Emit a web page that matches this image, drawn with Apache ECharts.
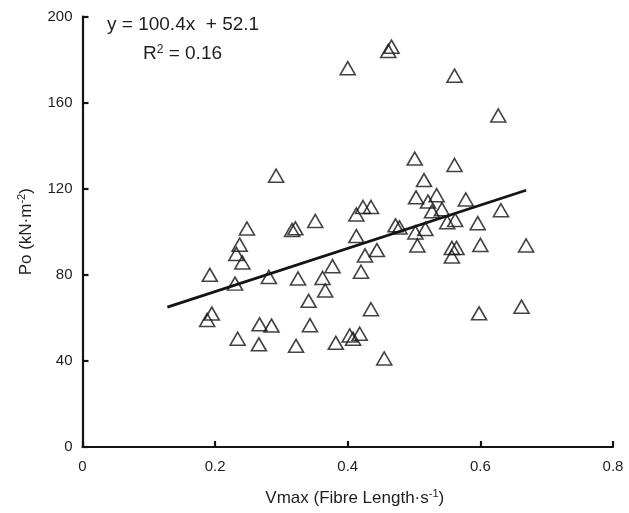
<!DOCTYPE html>
<html>
<head>
<meta charset="utf-8">
<script src="https://cdn.jsdelivr.net/npm/echarts@6/dist/echarts.min.js"></script>
<style>
  html, body { margin: 0; padding: 0; background: #fff; }
  #chart { width: 629px; height: 513px; }
</style>
</head>
<body>
<div id="chart"></div>
<script>
// Maximum shortening velocity (fibre lengths per second) of each fibre
const vmax = [
  0.466, 0.461, 0.400, 0.561, 0.627, 0.501, 0.561, 0.515, 0.503, 0.521,
  0.534, 0.578, 0.527, 0.542, 0.631, 0.423, 0.435, 0.413, 0.351, 0.472,
  0.478, 0.562, 0.550, 0.596, 0.502, 0.517, 0.413, 0.505, 0.600, 0.669,
  0.557, 0.564, 0.557, 0.426, 0.444, 0.292, 0.248, 0.237, 0.316, 0.321,
  0.192, 0.232, 0.241, 0.230, 0.281, 0.325, 0.341, 0.195, 0.188, 0.267,
  0.285, 0.343, 0.234, 0.266, 0.322, 0.377, 0.420, 0.362, 0.366, 0.435,
  0.598, 0.662, 0.403, 0.408, 0.418, 0.382, 0.455
];
// Specific isometric force Po (kN·m^-2) of the same fibres
const po = [
  186.0, 184.0, 176.0, 172.5, 154.0, 134.0, 131.0, 124.0, 116.0, 114.0,
  117.0, 115.0, 109.5, 110.5, 110.0, 111.5, 111.5, 108.0, 105.0, 103.0,
  102.0, 105.5, 104.4, 104.0, 99.7, 101.3, 98.0, 93.6, 93.9, 93.6,
  92.5, 92.5, 88.5, 89.0, 91.5, 126.0, 101.5, 94.0, 100.8, 101.6,
  80.0, 89.7, 85.7, 75.9, 79.0, 78.3, 67.9, 62.0, 59.0, 57.0,
  56.4, 56.6, 50.3, 47.7, 47.0, 84.0, 81.4, 78.5, 72.7, 64.0,
  62.1, 65.2, 51.8, 50.3, 52.6, 48.4, 41.1
];

// Least-squares fit reported on the chart
const fitSlope = 100.4;
const fitIntercept = 52.1;
const fitRange = [0.128, 0.669];

const xTicks = [0, 0.2, 0.4, 0.6, 0.8];
const yTicks = [0, 40, 80, 120, 160, 200];

const FONT = '"Liberation Sans", Arial, Helvetica, sans-serif';
const INK = '#141414';
const TEXT = '#1e1e1e';

const points = vmax.map((v, i) => [v, po[i]]);
const fitLine = fitRange.map(x => [x, fitSlope * x + fitIntercept]);

const chart = echarts.init(document.getElementById('chart'), null, { renderer: 'canvas' });

const axisCommon = {
  axisLine: { show: true, onZero: false, lineStyle: { color: INK, width: 2.2 } },
  axisTick: { show: true, inside: true, length: 6, lineStyle: { color: INK, width: 2.2 } },
  splitLine: { show: false },
  axisLabel: { color: TEXT, fontFamily: FONT, fontSize: 15 }
};

const supStyle = { fontFamily: FONT, fontSize: 11, lineHeight: 20, verticalAlign: 'top', color: TEXT, padding: [0, 0, 8, 0] };

chart.setOption({
  animation: false,
  backgroundColor: '#fff',
  grid: { left: 82.5, right: 16, top: 16.5, bottom: 62, containLabel: false },
  xAxis: Object.assign({}, axisCommon, {
    type: 'value',
    min: xTicks[0],
    max: xTicks[xTicks.length - 1],
    interval: xTicks[1] - xTicks[0],
    axisLabel: Object.assign({}, axisCommon.axisLabel, {
      margin: 12,
      formatter: v => (v === 0 ? '0' : v.toFixed(1))
    }),
    name: 'Vmax (Fibre Length·s{sup|-1})',
    nameLocation: 'middle',
    nameGap: 41,
    nameTextStyle: {
      color: TEXT, fontFamily: FONT, fontSize: 17, lineHeight: 20,
      padding: [0, 0, 0, 14],
      rich: { sup: supStyle }
    }
  }),
  yAxis: Object.assign({}, axisCommon, {
    type: 'value',
    min: yTicks[0],
    max: yTicks[yTicks.length - 1],
    interval: yTicks[1] - yTicks[0],
    axisLabel: Object.assign({}, axisCommon.axisLabel, { margin: 10 }),
    name: 'Po (kN·m{sup|-2})',
    nameLocation: 'middle',
    nameGap: 46,
    nameTextStyle: {
      color: TEXT, fontFamily: FONT, fontSize: 17, lineHeight: 20,
      rich: { sup: supStyle }
    }
  }),
  series: [
    {
      type: 'line',
      data: fitLine,
      symbol: 'none',
      lineStyle: { color: INK, width: 2.8 },
      z: 3,
      silent: true
    },
    {
      type: 'scatter',
      data: points,
      symbol: 'triangle',
      symbolSize: [15, 13],
      itemStyle: { color: 'rgba(255,255,255,0)', borderColor: INK, borderWidth: 1.6 },
      z: 4
    }
  ],
  graphic: [
    {
      type: 'text',
      left: 107, top: 15,
      style: { text: 'y = 100.4x  + 52.1', font: '19px ' + FONT, fill: TEXT }
    },
    {
      type: 'text',
      left: 143, top: 44,
      style: {
        text: 'R{sup|2} = 0.16',
        font: '19px ' + FONT, fill: TEXT,
        rich: { sup: { fontSize: 12, fontFamily: FONT, verticalAlign: 'top', fill: TEXT, padding: [0, 0, 8, 0] } }
      }
    }
  ]
});
</script>
</body>
</html>
